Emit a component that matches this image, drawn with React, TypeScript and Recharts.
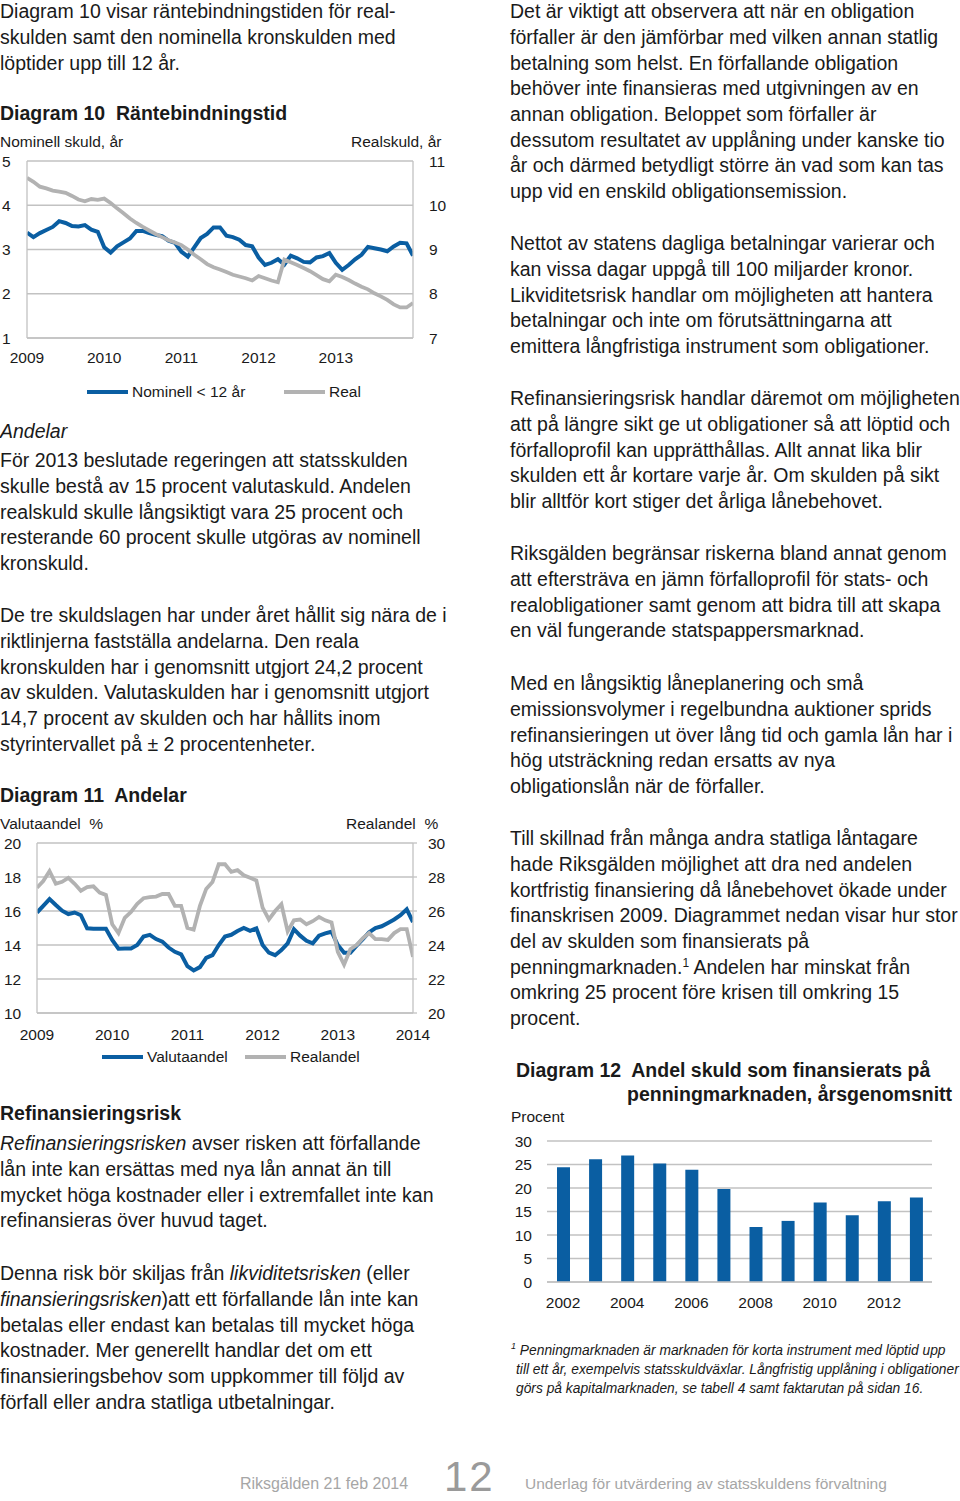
import React from "react";
import {
  LineChart,
  Line,
  BarChart,
  Bar,
  XAxis,
  YAxis,
  CartesianGrid,
  Legend,
} from "recharts";

const FONT = '"Liberation Sans", Arial, sans-serif';
const BLUE = "#0A5EA2";
const GREY = "#B2B2B2";
const GRID = "#C2C2C2";
const INK = "#1a1a1a";

// Diagram 10 – Räntebindningstid, monthly Jan 2009 .. Jan 2014
const nominell10 = [
  3.38, 3.28, 3.37, 3.44, 3.51, 3.64, 3.6, 3.53, 3.52, 3.55, 3.45, 3.4,
  3.05, 2.93, 3.07, 3.16, 3.25, 3.42, 3.42, 3.37, 3.33, 3.3, 3.2, 3.15,
  2.95, 2.84, 3.05, 3.26, 3.35, 3.5, 3.5, 3.31, 3.28, 3.22, 3.1, 3.07,
  2.82, 2.65, 2.7, 2.78, 2.66, 2.86, 2.8, 2.72, 2.71, 2.82, 2.85, 2.92,
  2.7, 2.54, 2.65, 2.78, 2.88, 3.06, 3.03, 3.0, 2.96, 3.07, 3.15, 3.14,
  2.86,
];
const real10 = [
  10.62, 10.53, 10.42, 10.38, 10.33, 10.31, 10.28, 10.21, 10.13, 10.09, 10.14, 10.12,
  10.15, 10.05, 9.93, 9.82, 9.7, 9.6, 9.51, 9.43, 9.35, 9.28, 9.21, 9.16,
  9.1, 9.0, 8.88, 8.78, 8.67, 8.6, 8.55, 8.49, 8.43, 8.39, 8.35, 8.3,
  8.4, 8.35, 8.3, 8.26, 8.77, 8.71, 8.65, 8.58, 8.51, 8.42, 8.33, 8.28,
  8.43, 8.38, 8.31, 8.23, 8.16, 8.1, 8.01, 7.94, 7.86, 7.76, 7.69, 7.69,
  7.79,
];
const years10 = [2009, 2010, 2011, 2012, 2013];
const nomTicks = [1, 2, 3, 4, 5];
const realTicks = [7, 8, 9, 10, 11];

// Diagram 11 – Andelar, monthly Jan 2009 .. Jan 2014
const valuta11 = [
  15.91, 16.3, 16.7, 16.35, 16.02, 15.82, 15.91, 15.75, 14.98, 14.96, 14.95, 14.95,
  14.3, 13.78, 13.8, 13.8, 14.0, 14.5, 14.6, 14.35, 14.2, 13.85, 13.6, 13.45,
  12.75, 12.5, 12.7, 13.24, 13.4, 14.0, 14.5, 14.6, 14.82, 15.0, 14.83, 14.98,
  14.0, 13.55, 13.4, 13.7, 14.1, 14.93, 14.55, 14.25, 14.1, 14.55, 14.68, 14.78,
  14.0, 13.55, 13.55, 13.96, 14.35, 14.75, 15.0, 15.1, 15.3, 15.5, 15.75, 16.1,
  15.35,
];
const realandel11 = [
  27.37, 27.76, 28.35, 27.6, 27.72, 27.95, 27.6, 27.19, 27.4, 27.45, 27.08, 26.95,
  25.22, 24.7, 25.6, 25.95, 26.42, 26.75, 26.82, 26.85, 27.0, 27.0, 26.3, 26.3,
  25.0, 24.9, 26.3, 27.3, 27.7, 28.75, 28.75, 28.3, 28.4, 28.1, 27.95, 27.8,
  26.2, 25.5, 26.0, 26.4, 24.8, 25.45, 25.5, 25.22, 25.4, 25.65, 25.45, 25.32,
  23.6, 22.85, 23.75, 24.0, 24.4, 24.7, 24.35, 24.35, 24.3, 24.7, 24.93, 24.93,
  23.3,
];
const years11 = [2009, 2010, 2011, 2012, 2013, 2014];
const valutaTicks = [10, 12, 14, 16, 18, 20];
const realandelTicks = [20, 22, 24, 26, 28, 30];

// Diagram 12 – Andel skuld på penningmarknaden
const years12 = ["2002", "2003", "2004", "2005", "2006", "2007", "2008", "2009", "2010", "2011", "2012", "2013"];
const andel12 = [24.4, 26.1, 26.9, 25.2, 23.9, 19.8, 11.7, 13.0, 16.9, 14.2, 17.2, 18.0];
const procentTicks = [0, 5, 10, 15, 20, 25, 30];

const monthX = (i: number) => 2009 + i / 12;
const rows10 = nominell10.map((v, i) => ({ t: monthX(i), nominell: v, real: real10[i] }));
const rows11 = valuta11.map((v, i) => ({ t: monthX(i), valuta: v, real: realandel11[i] }));
const rows12 = years12.map((y, i) => ({ year: y, andel: andel12[i] }));

const tickStyle = { fill: INK, fontSize: 15.5, fontFamily: FONT };

type Item = { x: number; label: string; color: string };

function LegendBox({ items }: { items: Item[] }) {
  return (
    <div style={{ position: "relative", height: 20, fontFamily: FONT }}>
      {items.map((it) => (
        <React.Fragment key={it.label}>
          <div
            style={{
              position: "absolute",
              left: it.x,
              top: 8,
              width: 41,
              height: 4,
              background: it.color,
            }}
          />
          <div
            style={{
              position: "absolute",
              left: it.x + 45,
              top: 0,
              fontSize: 15.5,
              lineHeight: "20px",
              color: INK,
              whiteSpace: "nowrap",
            }}
          >
            {it.label}
          </div>
        </React.Fragment>
      ))}
    </div>
  );
}

function T({ x, y, size = 15.5, lh, children, style }: any) {
  const lineH = lh ?? size * 1.2;
  return (
    <div
      style={{
        position: "absolute",
        left: x,
        top: y - lineH / 2,
        fontSize: size,
        lineHeight: lineH + "px",
        whiteSpace: "nowrap",
        color: INK,
        ...style,
      }}
    >
      {children}
    </div>
  );
}

function Para({ x, y, lines, size = 19.5, lh = 25.7, style }: any) {
  return (
    <div
      style={{
        position: "absolute",
        left: x,
        top: y - lh / 2,
        fontSize: size,
        lineHeight: lh + "px",
        whiteSpace: "nowrap",
        color: INK,
        ...style,
      }}
    >
      {lines.map((l: React.ReactNode, i: number) => (
        <div key={i}>{l}</div>
      ))}
    </div>
  );
}

function Diagram10() {
  return (
    <div style={{ position: "absolute", left: 0, top: 150 }}>
      <LineChart width={460} height={260} data={rows10} margin={{ top: 11, right: 0, bottom: 0, left: 0 }}>
        <CartesianGrid yAxisId="l" vertical={false} stroke={GRID} strokeWidth={1.3} />
        <XAxis
          dataKey="t"
          type="number"
          domain={[2009, 2014]}
          ticks={years10}
          allowDataOverflow
          height={72}
          tickLine={false}
          tickSize={0}
          tickMargin={14}
          axisLine={{ stroke: GRID, strokeWidth: 1.3 }}
          tick={tickStyle}
        />
        <YAxis
          yAxisId="l"
          orientation="left"
          width={27}
          domain={[1, 5]}
          ticks={nomTicks}
          interval={0}
          tickLine={false}
          tickSize={0}
          tickMargin={25}
          axisLine={{ stroke: GRID, strokeWidth: 1.3 }}
          tick={{ ...tickStyle, textAnchor: "start" }}
        />
        <YAxis
          yAxisId="r"
          orientation="right"
          width={47}
          domain={[7, 11]}
          ticks={realTicks}
          interval={0}
          tickLine={false}
          tickSize={0}
          tickMargin={16}
          axisLine={{ stroke: GRID, strokeWidth: 1.3 }}
          tick={tickStyle}
        />
        <Line yAxisId="l" dataKey="nominell" name="Nominell < 12 år" stroke={BLUE} strokeWidth={4} dot={false} isAnimationActive={false} />
        <Line yAxisId="r" dataKey="real" name="Real" stroke={GREY} strokeWidth={3.8} dot={false} isAnimationActive={false} />
        <Legend
          verticalAlign="middle"
          layout="horizontal"
          wrapperStyle={{ top: 232, left: 0, width: 460, height: 20 }}
          content={() => (
            <LegendBox
              items={[
                { x: 87, label: "Nominell < 12 år", color: BLUE },
                { x: 284, label: "Real", color: GREY },
              ]}
            />
          )}
        />
      </LineChart>
    </div>
  );
}

function Diagram11() {
  return (
    <div style={{ position: "absolute", left: 0, top: 830 }}>
      <LineChart width={460} height={240} data={rows11} margin={{ top: 13, right: 0, bottom: 0, left: 0 }}>
        <CartesianGrid yAxisId="l" vertical={false} stroke={GRID} strokeWidth={1.3} />
        <XAxis
          dataKey="t"
          type="number"
          domain={[2009, 2014]}
          ticks={years11}
          interval={0}
          allowDataOverflow
          height={57}
          tickLine={false}
          tickSize={0}
          tickMargin={16}
          axisLine={{ stroke: GRID, strokeWidth: 1.3 }}
          tick={tickStyle}
        />
        <YAxis
          yAxisId="l"
          orientation="left"
          width={37}
          domain={[10, 20]}
          ticks={valutaTicks}
          interval={0}
          tickLine={false}
          tickSize={0}
          tickMargin={33}
          axisLine={{ stroke: GRID, strokeWidth: 1.3 }}
          tick={{ ...tickStyle, textAnchor: "start" }}
        />
        <YAxis
          yAxisId="r"
          orientation="right"
          width={47}
          domain={[20, 30]}
          ticks={realandelTicks}
          interval={0}
          tickSize={4}
          tickLine={{ stroke: GRID, strokeWidth: 1.3 }}
          tickMargin={11}
          axisLine={{ stroke: GRID, strokeWidth: 1.3 }}
          tick={tickStyle}
        />
        <Line yAxisId="l" dataKey="valuta" name="Valutaandel" stroke={BLUE} strokeWidth={4} dot={false} isAnimationActive={false} />
        <Line yAxisId="r" dataKey="real" name="Realandel" stroke={GREY} strokeWidth={3.8} dot={false} isAnimationActive={false} />
        <Legend
          verticalAlign="middle"
          layout="horizontal"
          wrapperStyle={{ top: 217, left: 0, width: 460, height: 20 }}
          content={() => (
            <LegendBox
              items={[
                { x: 102, label: "Valutaandel", color: BLUE },
                { x: 245, label: "Realandel", color: GREY },
              ]}
            />
          )}
        />
      </LineChart>
    </div>
  );
}

function Diagram12() {
  return (
    <div style={{ position: "absolute", left: 505, top: 1125 }}>
      <BarChart width={455} height={195} data={rows12} margin={{ top: 16, right: 28, bottom: 0, left: 0 }}>
        <CartesianGrid vertical={false} stroke={GRID} strokeWidth={1.3} />
        <XAxis
          dataKey="year"
          height={38}
          interval={1}
          tickLine={false}
          tickSize={0}
          tickMargin={15}
          axisLine={{ stroke: GRID, strokeWidth: 1.3 }}
          tick={tickStyle}
        />
        <YAxis
          width={42}
          domain={[0, 30]}
          ticks={procentTicks}
          interval={0}
          axisLine={false}
          tickLine={false}
          tickSize={0}
          tickMargin={15}
          tick={tickStyle}
        />
        <Bar dataKey="andel" fill={BLUE} barSize={13} isAnimationActive={false} />
      </BarChart>
    </div>
  );
}

export default function App() {
  return (
    <div
      style={{
        position: "absolute",
        left: 0,
        top: 0,
        width: 960,
        height: 1501,
        overflow: "hidden",
        background: "#fff",
        fontFamily: FONT,
        color: INK,
      }}
    >
      {/* left column */}
      <Para
        x={0}
        y={12}
        lines={[
          "Diagram 10 visar räntebindningstiden för real-",
          "skulden samt den nominella kronskulden med",
          "löptider upp till 12 år.",
        ]}
      />
      <T x={0} y={114} size={19.5} style={{ fontWeight: 700 }}>
        Diagram 10&nbsp; Räntebindningstid
      </T>
      <T x={0} y={142}>Nominell skuld, år</T>
      <T x={351} y={142}>Realskuld, år</T>
      <Diagram10 />

      <T x={0} y={432} size={19.5} style={{ fontStyle: "italic" }}>
        Andelar
      </T>
      <Para
        x={0}
        y={461}
        lines={[
          "För 2013 beslutade regeringen att statsskulden",
          "skulle bestå av 15 procent valutaskuld. Andelen",
          "realskuld skulle långsiktigt vara 25 procent och",
          "resterande 60 procent skulle utgöras av nominell",
          "kronskuld.",
        ]}
      />
      <Para
        x={0}
        y={616}
        lines={[
          "De tre skuldslagen har under året hållit sig nära de i",
          "riktlinjerna fastställa andelarna. Den reala",
          "kronskulden har i genomsnitt utgjort 24,2 procent",
          "av skulden. Valutaskulden har i genomsnitt utgjort",
          "14,7 procent av skulden och har hållits inom",
          "styrintervallet på ± 2 procentenheter.",
        ]}
      />
      <T x={0} y={796} size={19.5} style={{ fontWeight: 700 }}>
        Diagram 11&nbsp; Andelar
      </T>
      <T x={0} y={824}>Valutaandel&nbsp; %</T>
      <T x={346} y={824}>Realandel&nbsp; %</T>
      <Diagram11 />

      <T x={0} y={1114} size={19.5} style={{ fontWeight: 700 }}>
        Refinansieringsrisk
      </T>
      <Para
        x={0}
        y={1144}
        lines={[
          <>
            <i>Refinansieringsrisken</i> avser risken att förfallande
          </>,
          "lån inte kan ersättas med nya lån annat än till",
          "mycket höga kostnader eller i extremfallet inte kan",
          "refinansieras över huvud taget.",
        ]}
      />
      <Para
        x={0}
        y={1274}
        lines={[
          <>
            Denna risk bör skiljas från <i>likviditetsrisken</i> (eller
          </>,
          <>
            <i>finansieringsrisken</i>)att ett förfallande lån inte kan
          </>,
          "betalas eller endast kan betalas till mycket höga",
          "kostnader. Mer generellt handlar det om ett",
          "finansieringsbehov som uppkommer till följd av",
          "förfall eller andra statliga utbetalningar.",
        ]}
      />

      {/* right column */}
      <Para
        x={510}
        y={12}
        lines={[
          "Det är viktigt att observera att när en obligation",
          "förfaller är den jämförbar med vilken annan statlig",
          "betalning som helst. En förfallande obligation",
          "behöver inte finansieras med utgivningen av en",
          "annan obligation. Beloppet som förfaller är",
          "dessutom resultatet av upplåning under kanske tio",
          "år och därmed betydligt större än vad som kan tas",
          "upp vid en enskild obligationsemission.",
        ]}
      />
      <Para
        x={510}
        y={244}
        lines={[
          "Nettot av statens dagliga betalningar varierar och",
          "kan vissa dagar uppgå till 100 miljarder kronor.",
          "Likviditetsrisk handlar om möjligheten att hantera",
          "betalningar och inte om förutsättningarna att",
          "emittera långfristiga instrument som obligationer.",
        ]}
      />
      <Para
        x={510}
        y={399}
        lines={[
          "Refinansieringsrisk handlar däremot om möjligheten",
          "att på längre sikt ge ut obligationer så att löptid och",
          "förfalloprofil kan upprätthållas. Allt annat lika blir",
          "skulden ett år kortare varje år. Om skulden på sikt",
          "blir alltför kort stiger det årliga lånebehovet.",
        ]}
      />
      <Para
        x={510}
        y={554}
        lines={[
          "Riksgälden begränsar riskerna bland annat genom",
          "att eftersträva en jämn förfalloprofil för stats- och",
          "realobligationer samt genom att bidra till att skapa",
          "en väl fungerande statspappersmarknad.",
        ]}
      />
      <Para
        x={510}
        y={684}
        lines={[
          "Med en långsiktig låneplanering och små",
          "emissionsvolymer i regelbundna auktioner sprids",
          "refinansieringen ut över lång tid och gamla lån har i",
          "hög utsträckning redan ersatts av nya",
          "obligationslån när de förfaller.",
        ]}
      />
      <Para
        x={510}
        y={839}
        lines={[
          "Till skillnad från många andra statliga låntagare",
          "hade Riksgälden möjlighet att dra ned andelen",
          "kortfristig finansiering då lånebehovet ökade under",
          "finanskrisen 2009. Diagrammet nedan visar hur stor",
          "del av skulden som finansierats på",
          <>
            penningmarknaden.
            <sup style={{ fontSize: 12, lineHeight: 0 }}>1</sup> Andelen har minskat från
          </>,
          "omkring 25 procent före krisen till omkring 15",
          "procent.",
        ]}
      />
      <T x={516} y={1071} size={19.5} style={{ fontWeight: 700 }}>
        Diagram 12&nbsp; Andel skuld som finansierats på
      </T>
      <T x={627} y={1095} size={19.5} style={{ fontWeight: 700 }}>
        penningmarknaden, årsgenomsnitt
      </T>
      <T x={511} y={1117}>Procent</T>
      <Diagram12 />

      <Para
        x={511}
        y={1350}
        size={13.8}
        lh={19}
        style={{ fontStyle: "italic" }}
        lines={[
          <>
            <sup style={{ fontSize: 9, lineHeight: 0 }}>1</sup> Penningmarknaden är marknaden för korta instrument med löptid upp
          </>,
          <span style={{ paddingLeft: 5 }}>till ett år, exempelvis statsskuldväxlar. Långfristig upplåning i obligationer</span>,
          <span style={{ paddingLeft: 5 }}>görs på kapitalmarknaden, se tabell 4 samt faktarutan på sidan 16.</span>,
        ]}
      />

      {/* footer */}
      <T x={240} y={1484} size={16} style={{ color: "#a6a6a6" }}>
        Riksgälden 21 feb 2014
      </T>
      <T x={444} y={1477} size={42} lh={42} style={{ color: "#9a9a9a", letterSpacing: 2 }}>
        12
      </T>
      <T x={525} y={1484} size={15.5} style={{ color: "#a6a6a6" }}>
        Underlag för utvärdering av statsskuldens förvaltning
      </T>
    </div>
  );
}
